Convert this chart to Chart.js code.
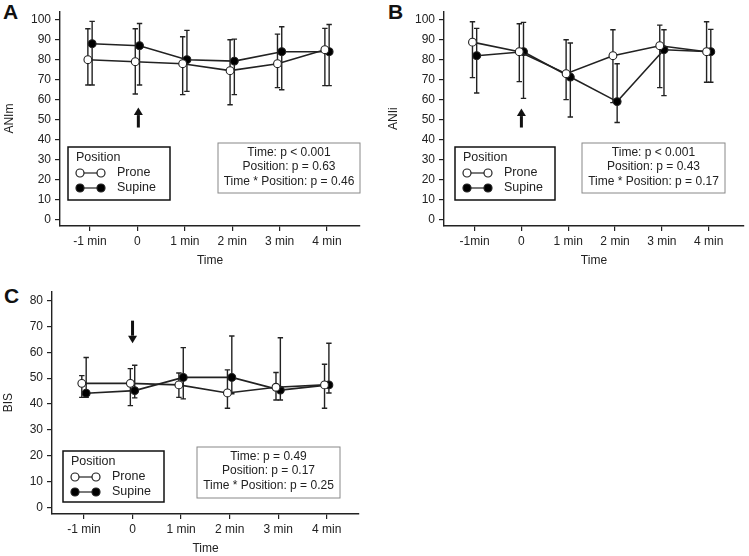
<!DOCTYPE html>
<html>
<head>
<meta charset="utf-8">
<script src="https://cdn.jsdelivr.net/npm/chart.js@4.4.1/dist/chart.umd.min.js"></script>
<style>
  body { margin: 0; background: #fff; width: 749px; height: 556px; position: relative; overflow: hidden; }
  .panel { position: absolute; }
  .tag { position: absolute; font: bold 21px Arial, "Liberation Sans", sans-serif; color: #111; }
</style>
</head>
<body>
<div class="tag" style="left:3px;top:0px">A</div>
<div class="tag" style="left:388px;top:0px">B</div>
<div class="tag" style="left:4px;top:284px">C</div>
<div class="panel" style="left:0;top:0"><canvas id="cA" width="370" height="270"></canvas></div>
<div class="panel" style="left:370px;top:0"><canvas id="cB" width="379" height="270"></canvas></div>
<div class="panel" style="left:0;top:280px"><canvas id="cC" width="370" height="276"></canvas></div>
<script>
// dane (mediana + dolna/górna granica słupka)
const timeLabels = ["-1 min", "0", "1 min", "2 min", "3 min", "4 min"];
const timeLabelsB = ["-1min", "0", "1 min", "2 min", "3 min", "4 min"];
const seriesNames = ["Prone", "Supine"];
const legendTitle = "Position";

const yTicks100 = [0, 10, 20, 30, 40, 50, 60, 70, 80, 90, 100];
const yTicks80 = [0, 10, 20, 30, 40, 50, 60, 70, 80];

// A: ANIm
const anmProne = [80, 79, 78, 74.5, 78, 85];
const anmProneHi = [95.5, 95.5, 91.5, 90, 92.8, 95.7];
const anmProneLo = [67.3, 62.8, 62.5, 57.4, 66, 67];
const anmSupine = [88, 87, 80, 79.3, 84, 84];
const anmSupineHi = [99.2, 98.1, 94.7, 90.3, 96.5, 97.6];
const anmSupineLo = [67.3, 67.3, 64.1, 62.5, 64.9, 67];
const anmStats = ["Time: p < 0.001", "Position: p = 0.63", "Time * Position: p = 0.46"];

// B: ANIi
const aniProne = [88.8, 84, 73, 82, 87, 84];
const aniProneHi = [99, 98, 90, 95, 97.3, 99];
const aniProneLo = [71, 69, 60, 58.5, 66, 68.7];
const aniSupine = [82, 84, 71.3, 59, 85, 84];
const aniSupineHi = [95.7, 98.7, 88.4, 78, 95, 95.2];
const aniSupineLo = [63.3, 60.6, 51.3, 48.5, 62, 68.7];
const aniStats = ["Time: p < 0.001", "Position: p = 0.43", "Time * Position: p = 0.17"];

// C: BIS
const bisProne = [48, 48, 47.4, 44.3, 46.5, 47.4];
const bisProneHi = [51, 53.7, 52, 53.2, 52.2, 55.4];
const bisProneLo = [42.6, 39.4, 42.6, 38.4, 41.6, 38.4];
const bisSupine = [44.2, 45.2, 50.3, 50.3, 45.4, 47.4];
const bisSupineHi = [58, 55, 61.8, 66.3, 65.6, 63.5];
const bisSupineLo = [42.6, 42.4, 42, 44, 41.6, 44.3];
const bisStats = ["Time: p = 0.49", "Position: p = 0.17", "Time * Position: p = 0.25"];

const FONT = "Arial, 'Liberation Sans', sans-serif";
const INK = "#222";
const DODGE = 0.045;

const errorBars = {
    id: "errorBars",
    beforeDatasetsDraw(chart) {
        const { ctx, scales: { x, y } } = chart;
        ctx.save();
        ctx.strokeStyle = INK;
        ctx.lineWidth = 1.4;
        chart.data.datasets.forEach((ds) => {
            ds.data.forEach((pt, i) => {
                const px = x.getPixelForValue(pt.x);
                const top = y.getPixelForValue(ds.hi[i]);
                const bot = y.getPixelForValue(ds.lo[i]);
                ctx.beginPath();
                ctx.moveTo(px, top); ctx.lineTo(px, bot);
                ctx.moveTo(px - 2.7, top); ctx.lineTo(px + 2.7, top);
                ctx.moveTo(px - 2.7, bot); ctx.lineTo(px + 2.7, bot);
                ctx.stroke();
            });
        });
        ctx.restore();
    },
};

const deco = {
    id: "deco",
    afterDraw(chart, args, o) {
        const { ctx, scales: { x, y } } = chart;
        ctx.save();

        // strzałka
        const ax = x.getPixelForValue(o.arrow.x);
        const y0 = y.getPixelForValue(o.arrow.from);
        const y1 = y.getPixelForValue(o.arrow.to);
        const dir = Math.sign(y1 - y0);
        const head = 7.5;
        ctx.strokeStyle = "#111";
        ctx.fillStyle = "#111";
        ctx.lineWidth = 3;
        ctx.beginPath();
        ctx.moveTo(ax, y0);
        ctx.lineTo(ax, y1 - dir * head);
        ctx.stroke();
        ctx.beginPath();
        ctx.moveTo(ax, y1);
        ctx.lineTo(ax - 4.5, y1 - dir * head);
        ctx.lineTo(ax + 4.5, y1 - dir * head);
        ctx.closePath();
        ctx.fill();

        // legenda
        const L = o.legend;
        ctx.lineWidth = 1.5;
        ctx.strokeRect(L.x, L.y, L.w, L.h);
        ctx.font = "12.5px " + FONT;
        ctx.textBaseline = "middle";
        ctx.textAlign = "left";
        ctx.fillStyle = INK;
        ctx.fillText(legendTitle, L.x + 8, L.y + 11);
        chart.data.datasets.forEach((ds, k) => {
            const ry = L.y + 26 + k * 15;
            const c0 = L.x + 12, c1 = L.x + 33;
            ctx.strokeStyle = INK;
            ctx.lineWidth = 1.2;
            ctx.beginPath();
            ctx.moveTo(c0, ry); ctx.lineTo(c1, ry);
            ctx.stroke();
            [c0, c1].forEach((cx) => {
                ctx.beginPath();
                ctx.arc(cx, ry, 4, 0, Math.PI * 2);
                ctx.fillStyle = ds.pointBackgroundColor;
                ctx.fill();
                ctx.stroke();
            });
            ctx.fillStyle = INK;
            ctx.fillText(ds.label, L.x + 49, ry);
        });

        // ramka z p-wartościami
        const S = o.stats;
        ctx.strokeStyle = "#888";
        ctx.lineWidth = 1;
        ctx.strokeRect(S.x, S.y, S.w, S.h);
        ctx.font = "12px " + FONT;
        ctx.textAlign = "center";
        ctx.fillStyle = INK;
        o.statLines.forEach((t, k) => {
            ctx.fillText(t, S.x + S.w / 2, S.y + 9.5 + k * 14.5);
        });
        ctx.restore();
    },
};

function makeSeries(label, vals, hi, lo, shift, fill) {
    return {
        label,
        data: vals.map((v, i) => ({ x: i + shift, y: v })),
        hi,
        lo,
        borderColor: INK,
        borderWidth: 1.6,
        pointBackgroundColor: fill,
        pointBorderColor: INK,
        pointBorderWidth: 1.1,
        pointRadius: 3.9,
        showLine: true,
        tension: 0,
    };
}

function makeChart(id, p) {
    return new Chart(document.getElementById(id), {
        type: "scatter",
        data: {
            datasets: [
                makeSeries(seriesNames[0], p.prone, p.proneHi, p.proneLo, -DODGE, "#fff"),
                makeSeries(seriesNames[1], p.supine, p.supineHi, p.supineLo, DODGE, "#000"),
            ],
        },
        options: {
            responsive: false,
            animation: false,
            layout: { padding: p.padding },
            plugins: {
                legend: { display: false },
                tooltip: { enabled: false },
                deco: { arrow: p.arrow, legend: p.legendBox, stats: p.statBox, statLines: p.statLines },
            },
            scales: {
                x: {
                    type: "linear",
                    min: p.xMin,
                    max: p.xMax,
                    afterBuildTicks: (s) => { s.ticks = p.labels.map((_, i) => ({ value: i })); },
                    afterFit: (s) => { s.height = p.xHeight; },
                    ticks: {
                        color: INK,
                        font: { family: FONT, size: 12 },
                        padding: 3,
                        maxRotation: 0,
                        autoSkip: false,
                        callback: (v) => p.labels[v],
                    },
                    grid: { drawOnChartArea: false, tickLength: 5, color: INK, lineWidth: 1.2 },
                    border: { color: INK, width: 1.4 },
                    title: {
                        display: true, text: "Time", color: INK,
                        font: { family: FONT, size: 12 },
                        padding: { top: 0, bottom: p.xTitlePad },
                    },
                },
                y: {
                    min: p.yMin,
                    max: p.yMax,
                    afterBuildTicks: (s) => { s.ticks = p.yTicks.map((v) => ({ value: v })); },
                    afterFit: (s) => { s.width = p.yWidth; },
                    ticks: { color: INK, font: { family: FONT, size: 12 }, padding: 4 },
                    grid: { drawOnChartArea: false, tickLength: 5, color: INK, lineWidth: 1.2 },
                    border: { color: INK, width: 1.4 },
                    title: {
                        display: true, text: p.yTitle, color: INK,
                        font: { family: FONT, size: 12 },
                        padding: { top: p.yTitlePad, bottom: 0 },
                    },
                },
            },
        },
        plugins: [errorBars, deco],
    });
}

makeChart("cA", {
    labels: timeLabels, yTicks: yTicks100, yTitle: "ANIm",
    prone: anmProne, proneHi: anmProneHi, proneLo: anmProneLo,
    supine: anmSupine, supineHi: anmSupineHi, supineLo: anmSupineLo,
    statLines: anmStats,
    xMin: -0.633, xMax: 5.696, yMin: -3.35, yMax: 104.3,
    padding: { top: 1, right: 10, left: 0, bottom: 0 },
    yWidth: 60, xHeight: 44, xTitlePad: 2, yTitlePad: 2,
    arrow: { x: 1.02, from: 46, to: 56 },
    legendBox: { x: 68, y: 147, w: 102, h: 53 },
    statBox: { x: 218, y: 143, w: 142, h: 50 },
});

makeChart("cB", {
    labels: timeLabelsB, yTicks: yTicks100, yTitle: "ANIi",
    prone: aniProne, proneHi: aniProneHi, proneLo: aniProneLo,
    supine: aniSupine, supineHi: aniSupineHi, supineLo: aniSupineLo,
    statLines: aniStats,
    xMin: -0.653, xMax: 5.752, yMin: -3.35, yMax: 104.3,
    padding: { top: 1, right: 1, left: 0, bottom: 0 },
    yWidth: 74, xHeight: 44, xTitlePad: 2, yTitlePad: 16,
    arrow: { x: 1.0, from: 46, to: 55.5 },
    legendBox: { x: 85, y: 147, w: 100, h: 53 },
    statBox: { x: 212, y: 143, w: 143, h: 50 },
});

makeChart("cC", {
    labels: timeLabels, yTicks: yTicks80, yTitle: "BIS",
    prone: bisProne, proneHi: bisProneHi, proneLo: bisProneLo,
    supine: bisSupine, supineHi: bisSupineHi, supineLo: bisSupineLo,
    statLines: bisStats,
    xMin: -0.659, xMax: 5.665, yMin: -2.42, yMax: 83.57,
    padding: { top: 10, right: 11, left: 0, bottom: 0 },
    yWidth: 52, xHeight: 42, xTitlePad: 0, yTitlePad: 1,
    arrow: { x: 1.0, from: 72.2, to: 63.5 },
    legendBox: { x: 63, y: 171, w: 101, h: 51 },
    statBox: { x: 197, y: 167, w: 143, h: 51 },
});
</script>
</body>
</html>
